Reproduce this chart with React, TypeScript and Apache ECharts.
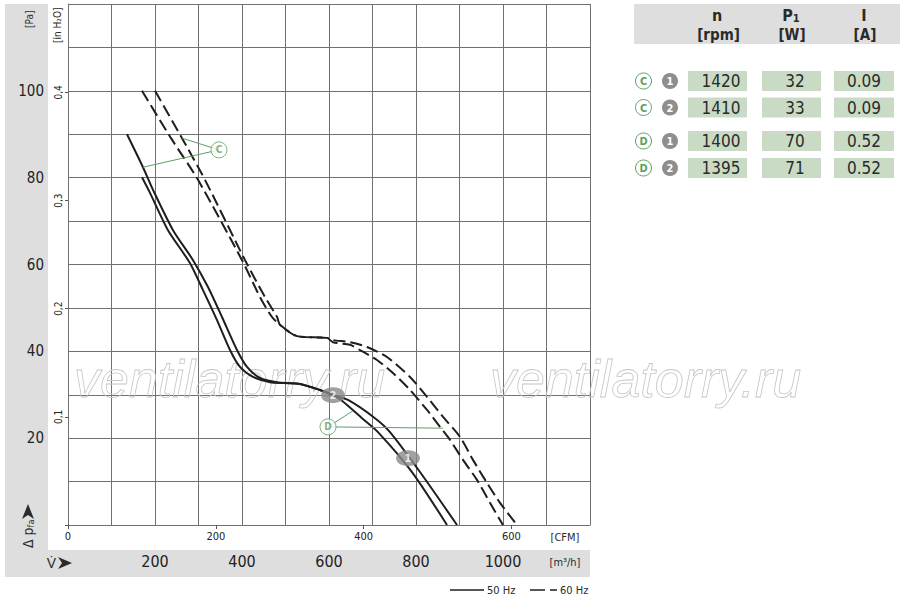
import React, { useEffect, useRef } from 'react';
import * as echarts from 'echarts';

const FONT = "'Liberation Sans Narrow', 'DejaVu Sans Condensed', 'Arial Narrow', sans-serif";
const GREEN = '#5f9f64';
const BAND = '#dedede';
const CELL = '#c9dbc5';
const INK = '#1e1e1e';
const GRIDC = '#707070';

// axis tick labels
const paLabels = [20, 40, 60, 80, 100];
const m3hLabels = [200, 400, 600, 800, 1000];
const cfmLabels = [0, 200, 400, 600];
const inh2oLabels = [0.1, 0.2, 0.3, 0.4];

// curves [m3/h, Pa]
const curve50Upper: number[][] = [
  [135.6, 90.0], [172.4, 82.4], [195.4, 77.2], [241.4, 67.9], [287.4, 61.0], [321.8, 54.8],
  [354.0, 47.9], [388.5, 40.3], [411.5, 36.4], [441.4, 33.9], [480.5, 32.9], [533.3, 32.5],
  [579.3, 31.1], [609.2, 29.9], [643.7, 28.8], [705.7, 24.6], [740.2, 21.4], [809.2, 12.2],
  [894.3, 0],
];
const curve50Lower: number[][] = [
  [170.1, 80.1], [188.5, 76.5], [229.9, 67.9], [280.5, 60.3], [310.3, 54.1], [342.5, 47.2],
  [372.4, 40.3], [395.4, 36.4], [425.3, 34.1], [464.4, 32.9], [494.3, 32.7], [533.3, 32.5],
  [579.3, 31.1], [609.2, 29.9], [629.9, 28.6], [675.9, 24.6], [712.6, 21.4], [790.8, 12.2],
  [871.3, 0],
];
const curve60Upper: number[][] = [
  [200.0, 100.0], [262.1, 89.1], [314.9, 79.5], [406.9, 61.0], [452.9, 52.5], [480.5, 47.9],
  [487.4, 46.1], [526.4, 43.5], [595.4, 43.1], [609.2, 42.6], [648.3, 42.1], [687.4, 41.0],
  [733.3, 38.7], [786.2, 34.1], [825.3, 29.5], [862.1, 24.9], [901.1, 20.3], [931.0, 15.0],
  [963.2, 9.7], [993.1, 5.1], [1032.2, 0],
];
const curve60Lower: number[][] = [
  [170.1, 100.0], [236.8, 89.1], [298.9, 79.5], [400.0, 61.0], [441.4, 52.5], [469.0, 47.9],
  [487.4, 46.1], [526.4, 43.5], [595.4, 43.1], [609.2, 42.1], [648.3, 41.5], [671.3, 40.3],
  [710.3, 38.0], [747.1, 35.0], [786.2, 31.1], [825.3, 26.5], [855.2, 22.6], [878.2, 19.6],
  [908.0, 15.0], [940.2, 10.4], [970.1, 5.1], [1000.0, 0],
];

// callouts (data coordinates)
const calloutCCircle = [347.1, 86.4];
const calloutCTargets = [[262.1, 89.1], [172.4, 82.4]];
const calloutDCircle = [597.7, 22.6];
const calloutDTargets = [[655.2, 26.3], [862.1, 22.3]];
const marker2 = [609.2, 29.9];
const marker1 = [781.6, 15.4];

// table
const rowFans = ['C', 'C', 'D', 'D'];
const rowNums = ['1', '2', '1', '2'];
const rowRpm = ['1420', '1410', '1400', '1395'];
const rowPower = ['32', '33', '70', '71'];
const rowCurrent = ['0.09', '0.09', '0.52', '0.52'];

const CFM_PER_M3H = 1 / 1.699;
const PA_PER_INH2O = 249.089;

const near = (v: number, list: number[]) => list.some((l) => Math.abs(l - v) < 1e-6);

function txt(text: string, x: number, y: number, size: number, opts: any = {}) {
  return {
    type: 'text',
    x, y,
    rotation: opts.rotation || 0,
    z: opts.z ?? 10,
    style: {
      text,
      x: 0, y: 0,
      fontSize: size,
      fontFamily: opts.fontFamily || FONT,
      fontWeight: opts.bold ? 'bold' : 'normal',
      fontStyle: opts.italic ? 'italic' : 'normal',
      fill: opts.fill || '#2a2a2a',
      stroke: opts.stroke,
      lineWidth: opts.lineWidth,
      align: opts.align || 'center',
      verticalAlign: opts.vAlign || 'middle',
      textAlign: opts.align || 'center',
      textVerticalAlign: opts.vAlign || 'middle',
      rich: opts.rich,
    },
  };
}

function buildGraphic() {
  const els: any[] = [];
  // gray bands
  els.push({ type: 'rect', z: -1, shape: { x: 5, y: 4, width: 43, height: 546 }, style: { fill: BAND } });
  els.push({ type: 'rect', z: -1, shape: { x: 5, y: 550, width: 585, height: 27 }, style: { fill: BAND } });
  els.push({ type: 'rect', z: -1, shape: { x: 634, y: 4, width: 266, height: 40 }, style: { fill: BAND } });

  // axis unit labels
  els.push(txt('[Pa]', 29, 28, 10, { rotation: Math.PI / 2, align: 'left' }));
  els.push(txt('[in H\u2082O]', 57.5, 43, 10, { rotation: Math.PI / 2, align: 'left' }));
  els.push(txt('[CFM]', 565, 537, 11));
  els.push(txt('[m\u00b3/h]', 565, 562, 11));

  // delta p label (rotated) + arrow
  els.push({
    type: 'text', x: 28, y: 548, rotation: Math.PI / 2, z: 10,
    style: {
      text: '{a|\u0394 p}{s|fa}', x: 0, y: 0, align: 'left', verticalAlign: 'middle',
      textAlign: 'left', textVerticalAlign: 'middle',
      rich: {
        a: { fontSize: 14, fontFamily: FONT, fill: '#2a2a2a', lineHeight: 16 },
        s: { fontSize: 9, fontFamily: FONT, fill: '#2a2a2a', padding: [6, 0, 0, 0], lineHeight: 16 },
      },
    },
  });
  els.push({ type: 'polygon', z: 10, shape: { points: [[28, 504], [22, 519], [28, 515], [34, 519]] }, style: { fill: '#2a2a2a' } });

  // V dot label + arrow
  els.push(txt('V\u0307', 51.5, 563, 14, { fontFamily: "'Liberation Sans', 'DejaVu Sans', sans-serif" }));
  els.push({ type: 'polygon', z: 10, shape: { points: [[72, 563], [58, 557], [62, 563], [58, 569]] }, style: { fill: '#2a2a2a' } });

  // legend
  els.push({ type: 'line', z: 10, shape: { x1: 450, y1: 590, x2: 484, y2: 590 }, style: { stroke: INK, lineWidth: 1.5 } });
  els.push(txt('50 Hz', 487, 590, 11, { align: 'left' }));
  els.push({ type: 'line', z: 10, shape: { x1: 530, y1: 590, x2: 545, y2: 590 }, style: { stroke: INK, lineWidth: 1.5 } });
  els.push({ type: 'line', z: 10, shape: { x1: 550, y1: 590, x2: 557, y2: 590 }, style: { stroke: INK, lineWidth: 1.5 } });
  els.push(txt('60 Hz', 560, 590, 11, { align: 'left' }));

  // watermark
  const wm = { italic: true, fill: 'rgba(255,255,255,0)', stroke: '#c6c6c6', lineWidth: 0.8, align: 'left', z: 1,
    fontFamily: "'Liberation Sans', 'DejaVu Sans', sans-serif" };
  els.push(txt('ventilatorry.ru', 74, 379, 52, wm));
  els.push(txt('ventilatorry.ru', 490, 379, 52, wm));

  // table header
  els.push(txt('n', 717, 15, 16, { bold: true }));
  els.push(txt('[rpm]', 718.5, 35, 15, { bold: true }));
  els.push({
    type: 'text', x: 791, y: 15, z: 10,
    style: {
      text: '{a|P}{s|1}', x: 0, y: 0, align: 'center', verticalAlign: 'middle',
      textAlign: 'center', textVerticalAlign: 'middle',
      rich: {
        a: { fontSize: 16, fontWeight: 'bold', fontFamily: FONT, fill: '#2a2a2a', lineHeight: 18 },
        s: { fontSize: 11, fontWeight: 'bold', fontFamily: FONT, fill: '#2a2a2a', padding: [7, 0, 0, 0], lineHeight: 18 },
      },
    },
  });
  els.push(txt('[W]', 792, 35, 15, { bold: true }));
  els.push(txt('I', 864, 15, 16, { bold: true }));
  els.push(txt('[A]', 865, 35, 15, { bold: true }));

  const rowY = [81, 107.5, 141, 168];
  rowY.forEach((y, i) => {
    els.push({ type: 'circle', z: 10, shape: { cx: 643.5, cy: y, r: 8 }, style: { fill: '#fff', stroke: GREEN, lineWidth: 1 } });
    els.push(txt(rowFans[i], 643.5, y + 0.5, 11, { bold: true, fill: GREEN }));
    els.push({ type: 'circle', z: 10, shape: { cx: 670, cy: y, r: 8 }, style: { fill: '#8e8e8e' } });
    els.push(txt(rowNums[i], 670, y + 0.5, 11, { bold: true, fill: '#fff' }));
    els.push({ type: 'rect', z: 5, shape: { x: 688, y: y - 10, width: 59, height: 20 }, style: { fill: CELL } });
    els.push({ type: 'rect', z: 5, shape: { x: 762, y: y - 10, width: 59, height: 20 }, style: { fill: CELL } });
    els.push({ type: 'rect', z: 5, shape: { x: 834, y: y - 10, width: 60, height: 20 }, style: { fill: CELL } });
    els.push(txt(rowRpm[i], 721, y, 17));
    els.push(txt(rowPower[i], 795, y, 17));
    els.push(txt(rowCurrent[i], 864, y, 17));
  });
  return els;
}

function curveSeries(data: number[][], dashed: boolean) {
  return {
    type: 'line',
    data,
    xAxisIndex: 0,
    yAxisIndex: 0,
    showSymbol: false,
    symbol: 'none',
    smooth: 0.25,
    z: 3,
    lineStyle: { color: INK, width: 2, type: dashed ? [12, 5] : 'solid' },
    silent: true,
  };
}

function calloutLine(a: number[], b: number[]) {
  return {
    type: 'line', data: [a, b], symbol: 'none', showSymbol: false, z: 4, silent: true,
    lineStyle: { color: GREEN, width: 1 },
  };
}

function badge(pos: number[], text: string, kind: 'letter' | 'num') {
  const isLetter = kind === 'letter';
  return {
    type: 'scatter', data: [pos], z: 6, silent: true,
    symbol: 'circle',
    symbolSize: isLetter ? 16 : [24, 16],
    itemStyle: isLetter ? { color: '#fff', borderColor: GREEN, borderWidth: 1 } : { color: '#8a8a8a' },
    label: {
      show: true, position: 'inside', formatter: text,
      color: isLetter ? GREEN : '#fff', fontWeight: 'bold', fontSize: isLetter ? 10 : 11, fontFamily: FONT,
    },
  };
}

export default function App() {
  const ref = useRef<HTMLDivElement>(null);
  useEffect(() => {
    if (!ref.current) return;
    const chart = echarts.init(ref.current, undefined, { renderer: 'svg' });
    const option: any = {
      animation: false,
      backgroundColor: '#fff',
      grid: { left: 68, top: 4, width: 522, height: 521, show: false },
      xAxis: [
        {
          type: 'value', min: 0, max: 1200, interval: 100, position: 'bottom',
          axisLine: { show: true, lineStyle: { color: GRIDC, width: 1 } },
          axisTick: { show: false },
          splitLine: { show: true, lineStyle: { color: GRIDC, width: 1 } },
          axisLabel: {
            margin: 28, fontSize: 16, color: '#222', fontFamily: FONT,
            formatter: (v: number) => (near(v, m3hLabels) ? String(v) : ''),
          },
        },
        {
          type: 'value', min: 0, max: 1200 * CFM_PER_M3H, interval: 200, position: 'bottom', offset: 0,
          axisLine: { show: false },
          axisTick: { show: true, length: 4, lineStyle: { color: '#555' } },
          splitLine: { show: false },
          axisLabel: {
            margin: 6, fontSize: 11, color: '#222', fontFamily: FONT, showMaxLabel: false,
            formatter: (v: number) => (near(v, cfmLabels) ? String(v) : ''),
          },
        },
      ],
      yAxis: [
        {
          type: 'value', min: 0, max: 120, interval: 10, position: 'left',
          axisLine: { show: true, lineStyle: { color: GRIDC, width: 1 } },
          axisTick: { show: false },
          splitLine: { show: true, lineStyle: { color: GRIDC, width: 1 } },
          axisLabel: {
            margin: 24, fontSize: 15, color: '#222', fontFamily: FONT,
            formatter: (v: number) => (near(v, paLabels) ? String(v) : ''),
          },
        },
        {
          type: 'value', min: 0, max: 120 / PA_PER_INH2O, interval: 0.1, position: 'left', offset: 0,
          axisLine: { show: false },
          axisTick: { show: true, length: 3, lineStyle: { color: '#555' } },
          splitLine: { show: false },
          axisLabel: {
            margin: 5, fontSize: 10, color: '#222', fontFamily: FONT, rotate: 90, showMaxLabel: false,
            formatter: (v: number) => (near(v, inh2oLabels) ? v.toFixed(1).replace('.', ',') : ''),
          },
        },
      ],
      series: [
        curveSeries(curve50Upper, false),
        curveSeries(curve50Lower, false),
        curveSeries(curve60Upper, true),
        curveSeries(curve60Lower, true),
        calloutLine(calloutCCircle, calloutCTargets[0]),
        calloutLine(calloutCCircle, calloutCTargets[1]),
        calloutLine(calloutDCircle, calloutDTargets[0]),
        calloutLine(calloutDCircle, calloutDTargets[1]),
        badge(calloutCCircle, 'C', 'letter'),
        badge(calloutDCircle, 'D', 'letter'),
        badge(marker2, '2', 'num'),
        badge(marker1, '1', 'num'),
      ],
      graphic: { elements: buildGraphic() },
    };
    chart.setOption(option);
    return () => chart.dispose();
  }, []);
  return <div ref={ref} style={{ position: 'fixed', left: 0, top: 0, width: 900, height: 600, background: '#fff' }} />;
}
